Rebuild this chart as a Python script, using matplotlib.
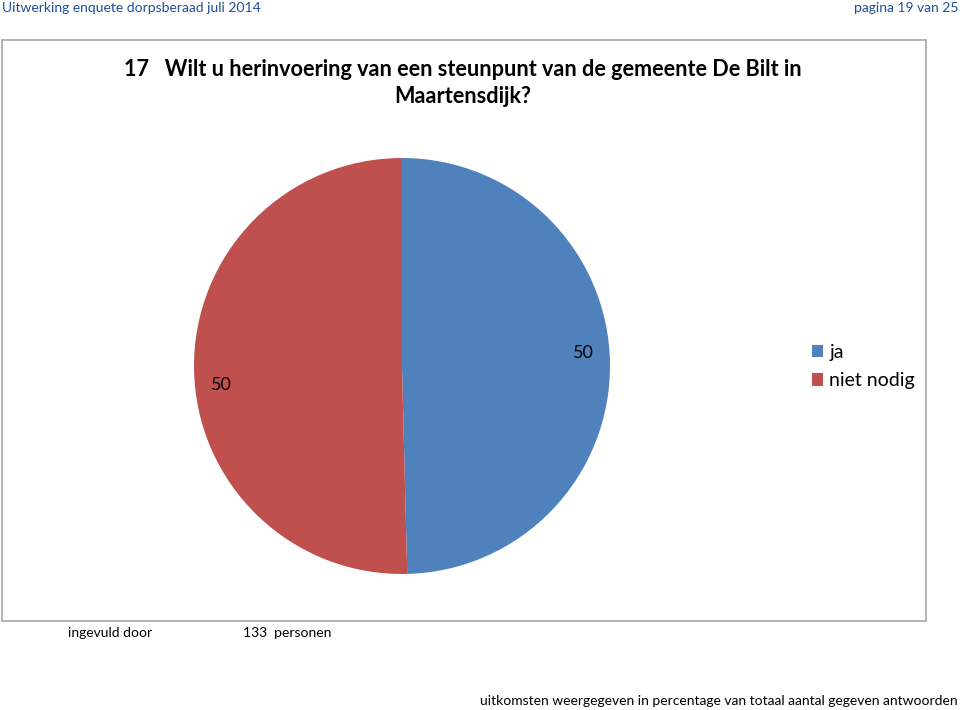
import matplotlib.pyplot as plt
from matplotlib.patches import Rectangle, Patch

plt.rcParams['font.family'] = ['Lato', 'DejaVu Sans']

categorieen = ['ja', 'niet nodig']
percentages = [49.6, 50.4]  # 66 en 67 van 133
kleuren = ['#4F81BD', '#C0504D']

kop_links = 'Uitwerking enquete dorpsberaad juli 2014'
kop_rechts = 'pagina 19 van 25'
titel = '17   Wilt u herinvoering van een steunpunt van de gemeente De Bilt in\nMaartensdijk?'
aantal = 133

W, H = 960, 710
fig = plt.figure(figsize=(W / 100, H / 100), dpi=100)

# kader om de grafiek
fig.patches.append(Rectangle((2 / W, 1 - 621 / H), 924 / W, 581 / H, transform=fig.transFigure,
                             fill=False, edgecolor='#A6A6A6', linewidth=1.2))

# kop en voet
fig.text(2 / W, 1 - 8 / H, kop_links, fontsize=10, color='#1F4E9A', ha='left', va='center')
fig.text(958 / W, 1 - 8 / H, kop_rechts, fontsize=10, color='#1F4E9A', ha='right', va='center')
fig.text(68 / W, 1 - 633 / H, 'ingevuld door', fontsize=10, ha='left', va='center')
fig.text(243 / W, 1 - 633 / H, f'{aantal}  personen', fontsize=10, ha='left', va='center')
fig.text(958 / W, 1 - 701 / H, 'uitkomsten weergegeven in percentage van totaal aantal gegeven antwoorden',
         fontsize=10, ha='right', va='center')

fig.text(463 / W, 1 - 83 / H, titel, fontsize=15.6, fontweight='bold', ha='center', va='center',
         linespacing=1.4)

# taartdiagram
cx, cy, r = 402, 366, 208
ax = fig.add_axes([(cx - r) / W, 1 - (cy + r) / H, 2 * r / W, 2 * r / H])
wedges, _, pct = ax.pie(percentages, colors=kleuren, startangle=90, counterclock=False,
                        autopct='%.0f', pctdistance=0.87, radius=1,
                        wedgeprops=dict(linewidth=0), textprops=dict(fontsize=13))
# labels iets verschoven zoals in het origineel
for t, dy in zip(pct, [0.05, -0.08]):
    x, y = t.get_position()
    t.set_position((x, y + dy))
ax.set_xlim(-1, 1)
ax.set_ylim(-1, 1)
ax.set_aspect('equal')
ax.axis('off')

# legenda
handles = [Patch(facecolor=c, edgecolor='none') for c in kleuren]
fig.legend(handles, categorieen, loc='upper left', bbox_to_anchor=(802 / W, 1 - 334 / H),
           frameon=False, fontsize=14, handlelength=0.6, handleheight=0.6, borderpad=0,
           handletextpad=0.3, labelspacing=0.6)

fig.savefig('out.png', dpi=100)
